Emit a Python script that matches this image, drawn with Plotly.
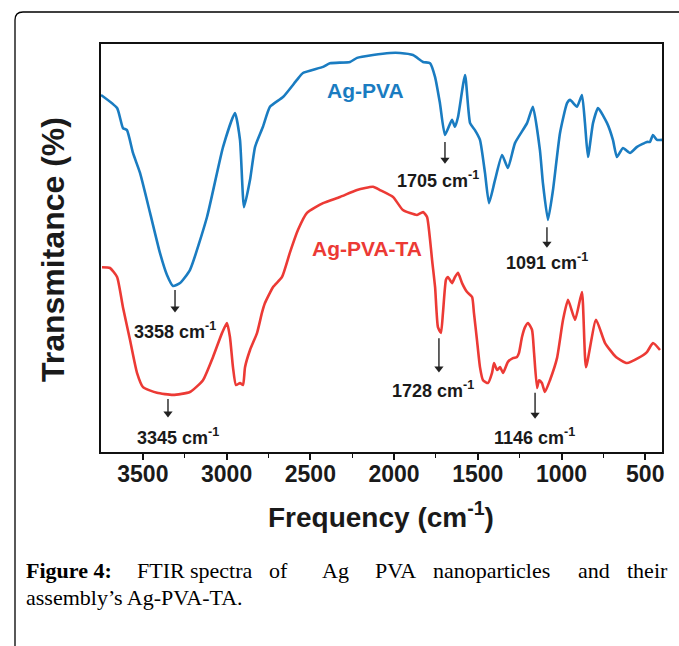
import plotly.graph_objects as go

# ---------------- data ----------------
blue_wn = [3750, 3654, 3619, 3595, 3559, 3517, 3457, 3398, 3356, 3320, 3278, 3219, 3117, 3021,
           2950, 2920, 2896, 2860, 2830, 2783, 2741, 2663, 2580, 2544, 2424, 2383, 2263, 2221,
           2126, 2024, 1964, 1887, 1827, 1785, 1755, 1726, 1696, 1654, 1636, 1618, 1576, 1546,
           1517, 1487, 1457, 1433, 1397, 1355, 1320, 1278, 1206, 1171, 1129, 1111, 1081, 1051,
           1009, 967, 949, 908, 878, 860, 842, 812, 782, 728, 693, 669, 633, 591, 549, 490,
           472, 454, 430, 400]
blue_T = [87.5, 84.3, 79.4, 78.9, 73.3, 68.4, 58.6, 48.8, 43.4, 40.7, 41.4, 44.6, 57.6, 74.8,
          83.1, 76.5, 60.0, 66.7, 74.8, 79.7, 84.6, 87.0, 91.2, 92.9, 94.4, 95.3, 95.6, 96.6,
          97.3, 97.8, 97.8, 97.3, 95.6, 95.3, 91.9, 85.5, 77.7, 81.4, 79.7, 82.1, 92.4, 80.6,
          78.9, 76.5, 68.4, 61.0, 66.7, 72.8, 69.6, 75.7, 80.6, 84.6, 74.0, 65.9, 56.9, 64.2,
          78.2, 85.5, 86.3, 84.6, 87.5, 80.6, 72.3, 80.6, 84.3, 80.6, 76.5, 72.3, 74.5, 73.3,
          74.8, 76.0, 76.0, 77.7, 76.5, 76.5]

red_wn = [3744, 3696, 3654, 3619, 3577, 3535, 3499, 3416, 3320, 3219, 3141, 3081, 3027, 2998,
          2980, 2962, 2944, 2920, 2902, 2890, 2860, 2818, 2789, 2771, 2723, 2669, 2621, 2574,
          2520, 2424, 2323, 2221, 2126, 2084, 2006, 1947, 1863, 1827, 1803, 1785, 1773, 1755,
          1738, 1720, 1708, 1690, 1678, 1654, 1636, 1618, 1594, 1564, 1534, 1523, 1505, 1487,
          1469, 1439, 1415, 1403, 1385, 1367, 1349, 1320, 1290, 1266, 1254, 1236, 1218, 1200,
          1176, 1164, 1146, 1134, 1117, 1099, 1069, 1027, 991, 961, 919, 878, 854, 794, 740,
          675, 609, 543, 490, 454, 412]
red_T = [45.3, 45.1, 42.9, 35.5, 27.5, 19.4, 15.9, 14.5, 14.0, 14.7, 17.6, 23.3, 29.2, 31.6,
         28.2, 20.8, 16.4, 16.9, 16.4, 20.8, 25.0, 29.2, 34.1, 36.5, 40.4, 42.9, 49.0, 54.4,
         58.6, 61.0, 62.5, 64.2, 65.0, 64.2, 62.5, 59.3, 58.1, 58.8, 57.6, 52.0, 47.1, 40.4,
         30.6, 29.2, 34.1, 42.2, 42.9, 41.4, 42.9, 43.9, 41.4, 39.2, 38.0, 34.1, 27.5, 20.8,
         17.6, 16.9, 19.4, 21.8, 20.1, 20.8, 19.4, 22.1, 23.0, 23.3, 24.3, 28.2, 30.6, 31.6,
         29.9, 24.3, 15.7, 17.6, 16.9, 14.7, 17.6, 23.0, 32.4, 37.3, 32.4, 39.2, 20.8, 32.4, 26.7,
         23.3, 21.8, 23.0, 24.5, 26.7, 25.0]

x_tick_vals = [3500, 3000, 2500, 2000, 1500, 1000, 500]
x_tick_text = ["3500", "3000", "2500", "2000", "1500", "1000", "500"]
x_minor_vals = [3250, 2750, 2250, 1750, 1250, 750]

peak_text = ["3358 cm<sup>-1</sup>", "3345 cm<sup>-1</sup>", "1705 cm<sup>-1</sup>",
             "1091 cm<sup>-1</sup>", "1728 cm<sup>-1</sup>", "1146 cm<sup>-1</sup>"]
arrow_x = [3308, 3350, 1696, 1087, 1732, 1158]
arrow_top = [39.7, 13.0, 76.0, 55.1, 27.9, 14.5]
arrow_bottom = [34.3, 8.6, 70.8, 50.2, 19.6, 8.3]
label_x = [3308, 3290, 1738, 1087, 1767, 1164]
label_y = [29.9, 3.7, 66.7, 46.8, 15.2, 3.7]

series_names = ["Ag-PVA", "Ag-PVA-TA"]
series_label_x = [2168, 2162]
series_label_y = [88.7, 50.0]

BLUE = "#1a7cc1"
RED = "#ec3a35"
SANS = "Liberation Sans, Arial, sans-serif"
SERIF = "Liberation Serif, Times New Roman, serif"

# ---------------- layout geometry (pixels) ----------------
W, H = 679, 646
L, R, T, B = 101, 662, 44, 452
PX_PER_UNIT = (B - T) / 100.0


def pxx(x):
    return (x - L) / (R - L)


def pxy(y):
    return (B - y) / (B - T)


fig = go.Figure()
fig.add_trace(go.Scatter(x=blue_wn, y=blue_T, mode="lines", name=series_names[0],
                         line=dict(color=BLUE, width=2.6, shape="spline", smoothing=0.5)))
fig.add_trace(go.Scatter(x=red_wn, y=red_T, mode="lines", name=series_names[1],
                         line=dict(color=RED, width=2.6, shape="spline", smoothing=0.5)))

# arrow shafts (shapes) and heads (triangle markers)
shapes = []
for ax_, y0, y1 in zip(arrow_x, arrow_top, arrow_bottom):
    shapes.append(dict(type="line", xref="x", yref="y", x0=ax_, x1=ax_, y0=y0,
                       y1=y1 + 3.0 / PX_PER_UNIT, line=dict(color="#222222", width=1.4)))
fig.add_trace(go.Scatter(x=arrow_x, y=[b + 3.5 / PX_PER_UNIT for b in arrow_bottom],
                         mode="markers", hoverinfo="skip",
                         marker=dict(symbol="triangle-down", size=8, color="#222222",
                                     line=dict(width=0))))

ann = []
for name, xx, yy, col in zip(series_names, series_label_x, series_label_y, [BLUE, RED]):
    ann.append(dict(x=xx, y=yy, xref="x", yref="y", text=name, showarrow=False,
                    font=dict(family=SANS, size=21, color=col, weight="bold")))

for t, lx, ly in zip(peak_text, label_x, label_y):
    ann.append(dict(x=lx, y=ly, xref="x", yref="y", text=t, showarrow=False,
                    font=dict(family=SANS, size=18, color="#1a1a1a", weight="bold")))

# axis titles
ann.append(dict(x=pxx(381), y=pxy(535), xref="paper", yref="paper",
                text="Frequency (cm<sup>-1</sup>)", showarrow=False,
                font=dict(family=SANS, size=28, color="#1a1a1a", weight="bold")))
ann.append(dict(x=pxx(33), y=pxy(250), xref="paper", yref="paper", textangle=-90,
                text="Transmitance (%)", showarrow=False,
                font=dict(family=SANS, size=32, color="#1a1a1a", weight="bold")))

# caption (justified first line)
cap_words = [("Figure 4:", 24, True), ("FTIR", 135, False), ("spectra", 188, False),
             ("of", 267, False), ("Ag", 320, False), ("PVA", 373, False),
             ("nanoparticles", 431, False), ("and", 576, False)]
for w, xs, bold in cap_words:
    ann.append(dict(x=pxx(xs), y=pxy(570), xref="paper", yref="paper", text=w,
                    showarrow=False, xanchor="left", yanchor="middle",
                    font=dict(family=SERIF, size=22, color="black",
                              weight="bold" if bold else "normal")))
ann.append(dict(x=pxx(670), y=pxy(570), xref="paper", yref="paper", text="their",
                showarrow=False, xanchor="right", yanchor="middle",
                font=dict(family=SERIF, size=22, color="black")))
ann.append(dict(x=pxx(24), y=pxy(597), xref="paper", yref="paper",
                text="assembly’s Ag-PVA-TA.", showarrow=False, xanchor="left",
                yanchor="middle", font=dict(family=SERIF, size=22, color="black")))

# outer rounded frame
bx, by, rr = 15, 12, 8
path = (f"M {pxx(bx)},{pxy(H + 20)} L {pxx(bx)},{pxy(by + rr)} "
        f"Q {pxx(bx)},{pxy(by)} {pxx(bx + rr)},{pxy(by)} L {pxx(W + 20)},{pxy(by)}")
shapes.append(dict(type="path", path=path, xref="paper", yref="paper",
                   line=dict(color="black", width=1.3)))

fig.update_layout(
    width=W, height=H, autosize=False,
    margin=dict(l=L, r=W - R, t=T, b=H - B, pad=0),
    paper_bgcolor="white", plot_bgcolor="white",
    showlegend=False,
    annotations=ann, shapes=shapes,
    xaxis=dict(range=[3750, 400], tickvals=x_tick_vals, ticktext=x_tick_text,
               ticks="outside", ticklen=6, tickwidth=1.6, tickcolor="#111",
               ticklabelstandoff=-6,
               minor=dict(tickvals=x_minor_vals, ticks="outside",
                          ticklen=4, tickwidth=1.4, tickcolor="#111"),
               showline=True, linecolor="#111", linewidth=2, mirror=True,
               showgrid=False, zeroline=False,
               tickfont=dict(family=SANS, size=23, color="#1a1a1a", weight="bold")),
    yaxis=dict(range=[0, 100], showticklabels=False, ticks="", showline=True,
               linecolor="#111", linewidth=2, mirror=True, showgrid=False, zeroline=False),
)

fig.write_html("out.html", config={"displayModeBar": False})

# remove the browser's default 8px body margin so pixel positions match
with open("out.html", "r", encoding="utf-8") as f:
    html = f.read()
html = html.replace("<head>", "<head><style>html,body{margin:0;padding:0;}</style>", 1)
with open("out.html", "w", encoding="utf-8") as f:
    f.write(html)
